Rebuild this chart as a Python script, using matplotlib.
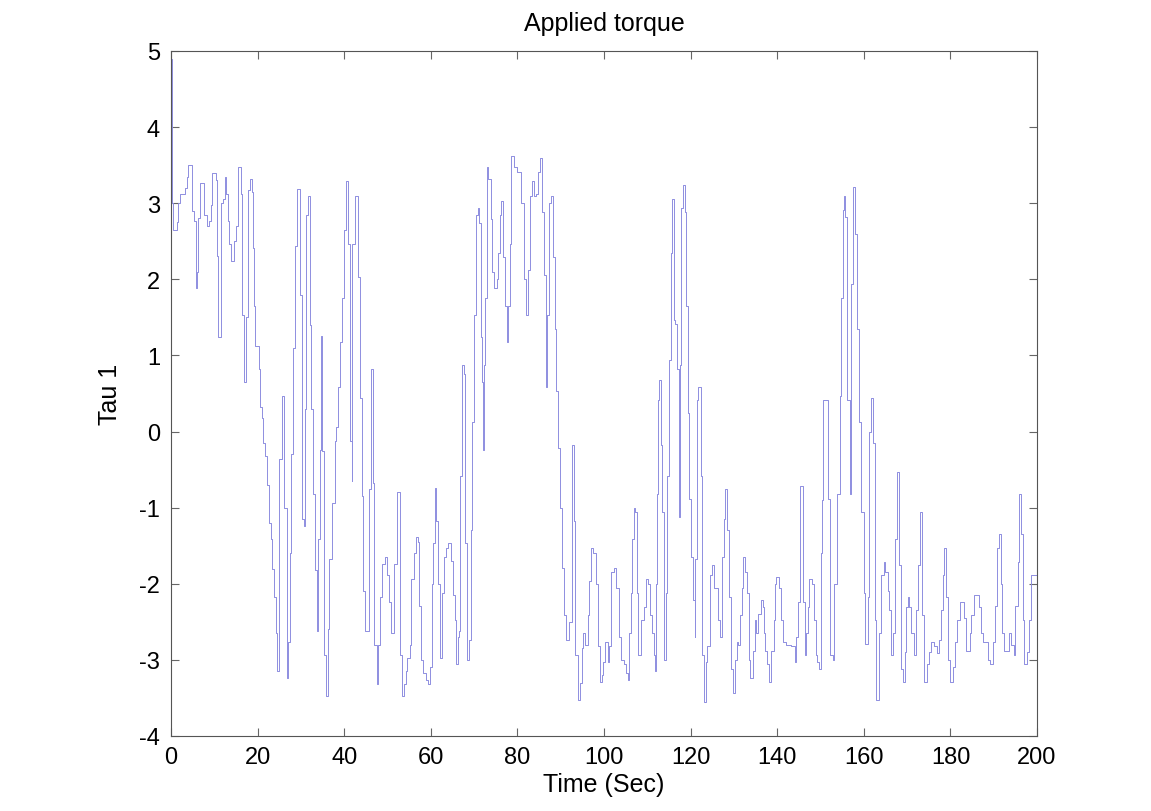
import numpy as np
import matplotlib.pyplot as plt

plt.rcParams['font.family'] = ['Liberation Sans', 'DejaVu Sans']
plt.rcParams['axes.unicode_minus'] = False

# (time in s, torque) step points, one list per stretch of time
steps_0_25 = [(0, 4.9), (0.15, 3.15), (0.3, 3.0), (0.5, 2.65), (1.3, 2.75), (1.5, 3.0), (2.1, 3.12),
              (3.2, 3.2), (3.6, 3.35), (4.0, 3.5), (4.8, 2.9), (5.4, 2.76), (5.7, 1.88), (5.9, 2.1),
              (6.3, 2.8), (6.7, 3.26), (7.5, 3.15), (7.7, 2.85), (8.2, 2.7), (8.8, 2.76), (9.2, 2.97),
              (9.5, 3.4), (10.3, 3.3), (10.5, 2.3), (10.9, 1.24), (11.5, 3.0), (12.1, 3.06), (12.5, 3.35),
              (12.7, 3.12), (13.1, 2.76), (13.5, 2.47), (13.8, 2.24), (14.6, 2.5), (14.9, 2.7),
              (15.4, 3.47), (16.2, 3.12), (16.5, 1.53), (16.8, 0.65), (17.3, 1.5), (17.8, 3.17),
              (18.2, 3.32), (18.6, 3.15), (19.0, 2.41), (19.2, 1.65), (19.5, 1.12), (20.2, 0.82),
              (20.5, 0.32), (20.9, 0.18), (21.3, -0.15), (21.8, -0.32), (22.1, -0.7), (22.6, -1.2),
              (23.1, -1.41), (23.4, -1.8), (23.8, -2.18), (24.2, -2.65), (24.5, -3.15)]
steps_25_50 = [(25.0, -0.36), (25.7, 0.47), (26.1, -1.0), (26.8, -3.24), (27.1, -2.76), (27.5, -1.6),
               (27.8, -0.3), (28.2, 1.1), (28.6, 2.44), (29.1, 3.18), (29.8, 1.8), (30.2, -1.15),
               (30.6, -1.24), (31.0, 0.3), (31.2, 2.85), (31.7, 3.1), (32.0, 1.4), (32.4, 0.3),
               (32.8, -0.82), (33.3, -1.82), (33.6, -2.62), (34.0, -1.41), (34.4, -0.24), (34.6, 1.26),
               (34.9, -0.26), (35.3, -2.94), (35.7, -3.47), (36.2, -2.6), (36.5, -1.68), (37.2, -0.94),
               (37.8, -0.12), (38.2, 0.06), (38.5, 0.59), (39.0, 1.18), (39.4, 1.76), (39.9, 2.65),
               (40.3, 3.29), (40.8, 2.47), (41.3, -0.12), (41.7, -0.65), (41.9, 2.47), (42.5, 3.1),
               (43.1, 2.03), (43.6, 0.44), (44.0, -0.85), (44.4, -2.1), (44.8, -2.62), (45.7, -0.76),
               (46.2, 0.82), (46.6, -0.68), (46.9, -2.8), (47.5, -3.32), (47.9, -2.8), (48.2, -2.18),
               (48.8, -1.74), (49.4, -1.65), (49.8, -1.88)]
steps_50_75 = [(50.3, -2.24), (50.8, -2.65), (51.5, -1.74), (52.1, -0.8), (52.8, -2.94), (53.4, -3.47),
               (53.9, -3.32), (54.2, -3.15), (54.6, -2.97), (55.1, -2.8), (55.5, -1.94), (56.1, -1.59),
               (56.5, -1.38), (57.0, -1.45), (57.2, -2.29), (57.7, -3.0), (58.2, -3.17), (58.8, -3.26),
               (59.4, -3.32), (59.8, -3.1), (60.2, -2.0), (60.5, -1.47), (60.9, -0.74), (61.3, -1.18),
               (61.7, -2.0), (62.1, -2.97), (62.6, -2.12), (63.1, -1.65), (63.6, -1.53), (64.0, -1.47),
               (64.6, -1.7), (65.2, -2.15), (65.5, -2.47), (65.9, -3.06), (66.2, -2.7), (66.6, -2.62),
               (66.8, -0.59), (67.2, 0.88), (67.6, 0.76), (68.0, -1.47), (68.4, -3.0), (68.8, -2.74),
               (69.2, -1.29), (69.6, 0.12), (70.0, 1.53), (70.4, 2.85), (70.8, 2.94), (71.1, 2.74),
               (71.5, 1.24), (71.8, 0.65), (72.0, -0.24), (72.3, 0.88), (72.5, 1.76), (72.9, 3.47),
               (73.2, 3.32), (73.8, 2.79), (74.2, 2.09), (74.7, 1.88)]
steps_75_100 = [(75.2, 2.0), (75.6, 2.35), (76.0, 2.85), (76.3, 3.03), (76.7, 2.29), (77.1, 1.65),
                (77.5, 1.18), (77.9, 1.65), (78.2, 2.47), (78.6, 3.62), (79.2, 3.47), (79.8, 3.41),
                (80.9, 3.0), (81.5, 2.0), (81.9, 1.53), (82.5, 2.12), (82.8, 3.1), (83.3, 3.29),
                (83.8, 3.1), (84.2, 3.12), (84.8, 3.41), (85.2, 3.59), (85.7, 2.88), (86.1, 2.06),
                (86.5, 0.59), (86.9, 1.53), (87.3, 3.0), (87.7, 3.1), (88.2, 2.29), (88.6, 1.35),
                (89.0, 0.53), (89.4, -0.21), (89.8, -1.0), (90.2, -1.79), (90.7, -2.41), (91.1, -2.74),
                (91.8, -2.5), (92.6, -0.18), (93.1, -1.18), (93.4, -2.94), (93.9, -3.53), (94.4, -3.3),
                (94.8, -2.85), (95.2, -2.65), (95.7, -2.8), (96.2, -2.41), (96.5, -1.97), (97.0, -1.53),
                (97.5, -1.6), (98.2, -2.0), (98.5, -2.82), (99.0, -3.29), (99.5, -3.2), (99.8, -3.03)]
steps_100_125 = [(100.3, -2.76), (100.8, -3.03), (101.1, -2.82), (101.5, -2.24), (101.7, -1.85),
                 (102.3, -1.79), (102.8, -2.06), (103.4, -2.7), (104.0, -3.0), (104.6, -3.06),
                 (105.0, -3.17), (105.5, -3.26), (105.8, -2.65), (106.2, -2.12), (106.5, -1.41),
                 (106.9, -1.0), (107.2, -1.06), (107.6, -2.12), (107.9, -2.94), (108.5, -2.47),
                 (109.2, -2.3), (109.8, -1.94), (110.2, -2.0), (110.6, -2.41), (111.0, -2.65),
                 (111.5, -2.94), (111.8, -3.15), (112.1, -2.0), (112.3, -0.82), (112.5, 0.41),
                 (112.7, 0.68), (113.1, -0.18), (113.4, -1.06), (113.8, -3.0), (114.2, -2.12),
                 (114.6, -0.59), (115.0, 0.94), (115.4, 2.35), (115.8, 3.06), (116.2, 1.47),
                 (116.5, 1.41), (116.9, 0.82), (117.2, -1.12), (117.5, 0.88), (117.8, 2.94),
                 (118.2, 3.24), (118.6, 2.88), (119.0, 1.65), (119.3, 0.24), (119.7, -0.88),
                 (120.1, -1.65), (120.5, -2.21), (120.9, -2.7), (121.0, -1.68), (121.5, 0.41),
                 (121.8, 0.59), (122.3, -0.59), (122.7, -2.94), (123.1, -3.56), (123.5, -3.03),
                 (123.8, -2.82), (124.4, -1.88), (125.0, -1.76)]
steps_125_150 = [(125.5, -2.06), (126.3, -2.47), (126.7, -2.7), (127.2, -1.65), (127.7, -1.15),
                 (128.0, -0.76), (128.5, -1.3), (128.9, -2.18), (129.3, -3.12), (129.7, -3.44),
                 (130.2, -3.0), (130.6, -2.76), (131.0, -2.8), (131.4, -2.41), (131.8, -2.06),
                 (132.2, -1.65), (132.6, -1.85), (133.1, -2.12), (133.5, -3.0), (133.8, -3.24),
                 (134.4, -2.88), (134.8, -2.47), (135.2, -2.65), (135.6, -2.4), (136.2, -2.21),
                 (136.6, -2.3), (136.9, -2.65), (137.2, -2.88), (137.7, -3.06), (138.2, -3.29),
                 (138.6, -2.88), (139.2, -2.47), (139.5, -2.0), (139.8, -1.91), (140.5, -2.06),
                 (140.9, -2.47), (141.3, -2.76), (142.1, -2.8), (143.2, -2.82), (144.0, -3.03),
                 (144.4, -2.7), (144.8, -2.24), (145.2, -0.71), (145.9, -2.24), (146.3, -2.94),
                 (146.7, -2.65), (147.0, -2.3), (147.3, -1.94), (148.0, -2.0), (148.5, -2.47),
                 (148.9, -2.94), (149.2, -3.03), (149.7, -3.12), (150.0, -1.59), (150.4, -0.9),
                 (150.6, 0.41)]
steps_150_175 = [(151.8, -0.88), (152.2, -2.94), (152.8, -3.0), (153.2, -2.0), (153.8, -0.82),
                 (154.4, 0.47), (154.8, 1.76), (155.2, 2.91), (155.5, 3.09), (155.7, 2.82),
                 (156.1, 0.41), (156.7, -0.82), (157.1, 1.94), (157.5, 3.21), (158.0, 2.59),
                 (158.5, 1.35), (158.8, 0.12), (159.4, -1.06), (160.0, -2.12), (160.3, -2.79),
                 (160.9, -2.18), (161.3, 0.0), (161.7, 0.44), (162.1, -0.15), (162.5, -2.47),
                 (162.9, -3.53), (163.4, -2.65), (164.0, -1.88), (164.6, -1.71), (165.0, -1.85),
                 (165.5, -2.1), (165.9, -2.35), (166.3, -2.94), (166.7, -2.65), (167.2, -1.41),
                 (167.7, -0.53), (168.2, -1.76), (168.6, -3.12), (169.0, -3.29), (169.4, -2.9),
                 (169.8, -2.3), (170.1, -2.18), (170.5, -2.3), (171.0, -2.65), (171.5, -2.94),
                 (172.0, -2.35), (172.6, -1.76), (173.0, -1.06), (173.5, -2.41), (173.9, -3.29),
                 (174.6, -3.06), (175.1, -2.9)]
steps_175_200 = [(175.5, -2.76), (176.1, -2.82), (177.0, -2.91), (177.4, -2.74), (177.8, -2.35),
                 (178.2, -1.88), (178.6, -1.53), (179.0, -2.18), (179.5, -3.0), (179.8, -3.29),
                 (180.6, -3.1), (181.0, -2.76), (181.5, -2.47), (182.3, -2.24), (183.2, -2.45),
                 (183.6, -2.88), (184.4, -2.65), (184.8, -2.41), (185.4, -2.15), (186.7, -2.3),
                 (187.1, -2.65), (187.5, -2.76), (188.6, -3.0), (189.2, -3.06), (189.8, -2.76),
                 (190.4, -2.29), (190.8, -1.53), (191.3, -1.35), (191.7, -2.0), (192.0, -2.65),
                 (192.4, -2.88), (193.5, -2.65), (194.0, -2.8), (194.6, -2.94), (195.0, -2.29),
                 (195.5, -1.71), (195.9, -0.82), (196.3, -1.35), (196.7, -2.47), (197.1, -3.06),
                 (197.7, -2.9), (198.1, -2.47), (198.5, -1.88), (200.0, -1.88)]

pts = (steps_0_25 + steps_25_50 + steps_50_75 + steps_75_100 + steps_100_125
       + steps_125_150 + steps_150_175 + steps_175_200)
t = [p[0] for p in pts]
tau = [p[1] for p in pts]

fig = plt.figure(figsize=[11.51, 8.12], dpi=100)
ax = fig.add_axes([0.1486, 0.0924, 0.7524, 0.8436])
ax.plot(t, tau, drawstyle='steps-post', color='#8e8ee0', linewidth=0.7)

ax.set_xlim(0, 200)
ax.set_ylim(-4, 5)
ax.set_xticks(np.arange(0, 201, 20))
ax.set_yticks(np.arange(-4, 6, 1))
ax.tick_params(direction='in', top=True, right=True, labelsize=17, length=6, color='#666666')
ax.tick_params(axis='x', pad=7)
ax.tick_params(axis='y', pad=8)
for s in ax.spines.values():
    s.set_color('#555555')
ax.set_title("Applied torque", fontsize=18, pad=15)
ax.set_xlabel("Time (Sec)", fontsize=18, labelpad=3)
ax.set_ylabel("Tau 1", fontsize=18, labelpad=12)

plt.savefig("out.png", dpi=100)
